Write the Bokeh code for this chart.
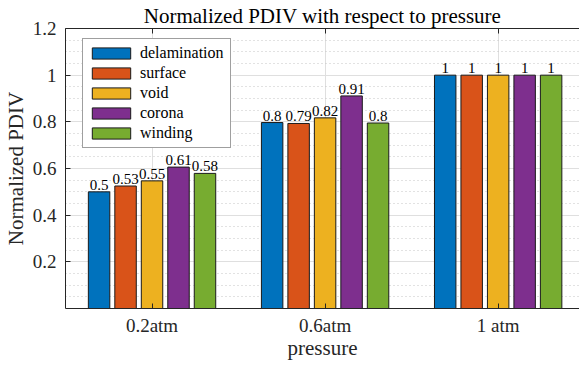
from bokeh.plotting import figure
from bokeh.models import (ColumnDataSource, Range1d, FixedTicker, LinearAxis, Legend, LegendItem)
from bokeh.core.properties import value
from bokeh.embed import file_html
from bokeh.resources import INLINE
import numpy as np

# ---- data ----
groups = ["0.2atm", "0.6atm", "1 atm"]
series = ["delamination", "surface", "void", "corona", "winding"]
colors = ["#0072BD", "#D95319", "#EDB120", "#7E2F8E", "#77AC30"]
delamination = [0.50, 0.797, 1.0]
surface = [0.525, 0.793, 1.0]
void = [0.547, 0.817, 1.0]
corona = [0.606, 0.911, 1.0]
winding = [0.579, 0.795, 1.0]
delamination_lbl = ["0.5", "0.8", "1"]
surface_lbl = ["0.53", "0.79", "1"]
void_lbl = ["0.55", "0.82", "1"]
corona_lbl = ["0.61", "0.91", "1"]
winding_lbl = ["0.58", "0.8", "1"]
y_ticks = [0.2, 0.4, 0.6, 0.8, 1.0, 1.2]
y_tick_labels = ["0.2", "0.4", "0.6", "0.8", "1", "1.2"]

values = [delamination, surface, void, corona, winding]
labels = [delamination_lbl, surface_lbl, void_lbl, corona_lbl, winding_lbl]

FONT = "Liberation Serif"
TXT = "#262626"

p = figure(width=579, height=362, output_backend="svg", toolbar_location=None,
           x_range=Range1d(0.5, 3.47), y_range=Range1d(0, 1.2),
           min_border_left=0, min_border_right=0, min_border_top=0, min_border_bottom=0)

p.title.text = "Normalized PDIV with respect to pressure"
p.title.text_font = FONT
p.title.text_font_size = "21px"
p.title.text_font_style = "normal"
p.title.text_color = "#000000"
p.title.align = "center"
p.title.standoff = 2
p.title.offset = 0

group_x = np.arange(1, len(groups) + 1)
step = 0.153
bw = 0.124
items = []
for i, (name, vals, lbls, col) in enumerate(zip(series, values, labels, colors)):
    src = ColumnDataSource(dict(x=group_x + (i - 2) * step, top=vals, lbl=lbls))
    r = p.vbar(x="x", top="top", width=bw, source=src, fill_color=col,
               line_color="#1a1a1a", line_width=1)
    p.text(x="x", y="top", text="lbl", source=src, text_align="center",
           text_baseline="bottom", y_offset=-2, text_font=value(FONT),
           text_font_size="15px", text_color="#000000")
    items.append(LegendItem(label=name, renderers=[r]))

legend = Legend(items=items, location=(17, 160), padding=4, spacing=0,
                glyph_width=48, glyph_height=14, label_height=20, label_standoff=5,
                label_width=86,
                label_text_font=FONT, label_text_font_size="16px", label_text_color="#000000",
                border_line_color="#404040", border_line_width=1,
                background_fill_color="white", background_fill_alpha=1, margin=0)
p.add_layout(legend, "center")

# axes
p.yaxis.ticker = FixedTicker(ticks=y_ticks, minor_ticks=list(np.round(np.arange(0.05, 1.2, 0.05), 2)))
p.yaxis.major_label_overrides = {t: l for t, l in zip(y_ticks, y_tick_labels)}
p.xaxis.ticker = FixedTicker(ticks=list(group_x))
p.xaxis.major_label_overrides = {int(g): n for g, n in zip(group_x, groups)}
p.xaxis.axis_label = "pressure"
p.yaxis.axis_label = "Normalized PDIV"
for ax in (p.xaxis[0], p.yaxis[0]):
    ax.axis_label_text_font = FONT
    ax.axis_label_text_font_size = "21px"
    ax.axis_label_text_font_style = "normal"
    ax.axis_label_text_color = TXT
    ax.major_label_text_font = FONT
    ax.major_label_text_font_size = "19px"
    ax.major_label_text_color = TXT
    ax.axis_line_color = TXT
    ax.major_tick_line_color = TXT
    ax.major_tick_in = 5
    ax.major_tick_out = 0
    ax.minor_tick_line_color = None
p.yaxis.major_label_standoff = 5
p.yaxis.axis_label_standoff = 2
p.xaxis.major_label_standoff = 6
p.xaxis.axis_label_standoff = -3

top_axis = LinearAxis(ticker=FixedTicker(ticks=list(group_x)), major_label_text_font_size="0px",
                      major_label_standoff=0, major_tick_in=5, major_tick_out=0,
                      axis_line_color=TXT, major_tick_line_color=TXT, minor_tick_line_color=None)
top_axis.major_label_overrides = {int(g): "" for g in group_x}
p.add_layout(top_axis, "above")

# grid
p.ygrid.ticker = p.yaxis[0].ticker
p.ygrid.grid_line_color = "#dfdfdf"
p.ygrid.minor_grid_line_color = "#c4c4c4"
p.ygrid.minor_grid_line_dash = "1 3"
p.xgrid.grid_line_color = "#dfdfdf"
p.outline_line_color = None
p.background_fill_color = "white"

open("out.html", "w").write(file_html(p, INLINE))
